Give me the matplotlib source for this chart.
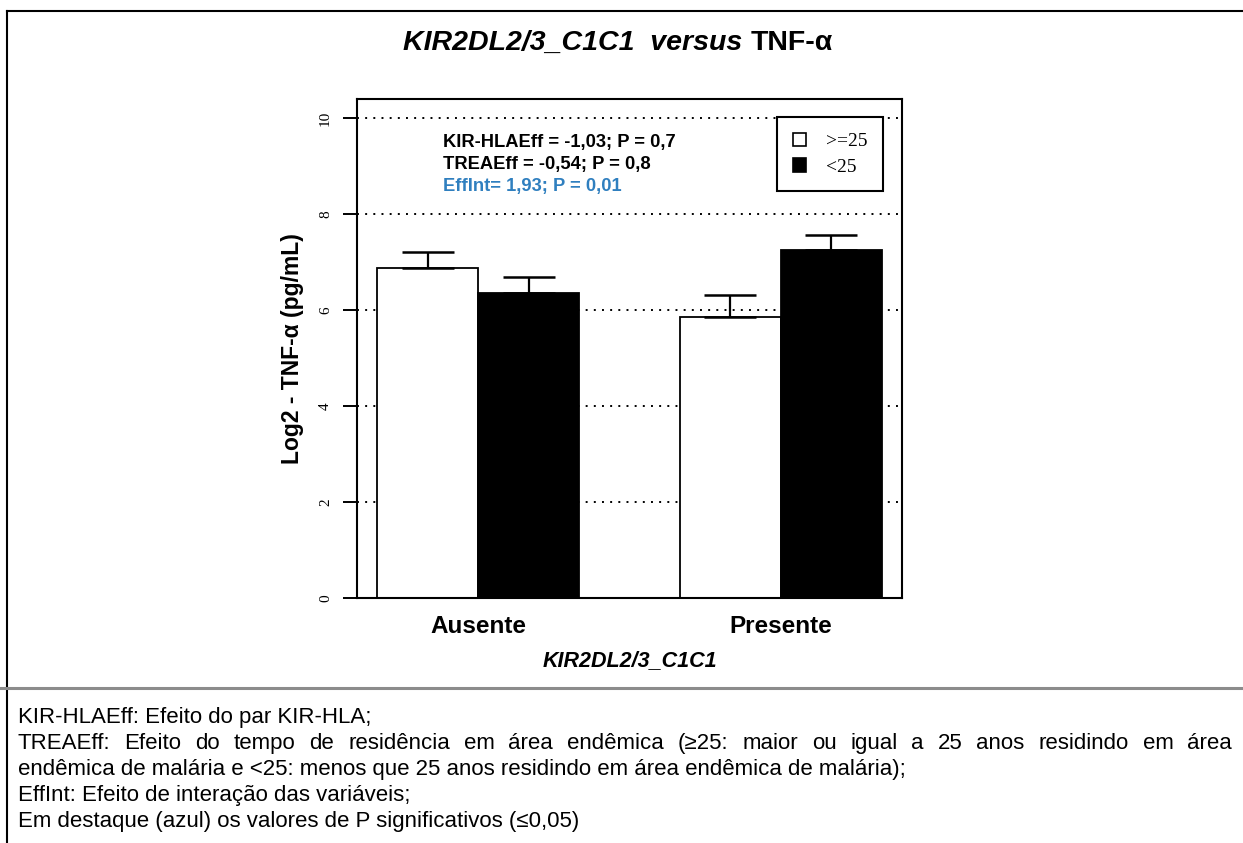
import matplotlib
matplotlib.use('Agg')
import matplotlib.pyplot as plt
from matplotlib.lines import Line2D
from matplotlib.patches import Patch
import numpy as np

# dados
grupos = ['Ausente', 'Presente']
series = ['>=25', '<25']
medias_ge25 = [6.88, 5.85]
medias_lt25 = [6.36, 7.25]
ep_ge25 = [0.33, 0.46]
ep_lt25 = [0.33, 0.31]
linhas_grade = [2, 4, 6, 8, 10]
textos_efeito = ['KIR-HLAEff = -1,03; P = 0,7',
                 'TREAEff = -0,54; P = 0,8',
                 'EffInt= 1,93; P = 0,01']
cores_efeito = ['black', 'black', '#2f7fbf']
notas = ['KIR-HLAEff: Efeito do par KIR-HLA;',
         'TREAEff: Efeito do tempo de residência em área endêmica (≥25: maior ou igual a 25 anos residindo em área',
         'endêmica de malária e <25: menos que 25 anos residindo em área endêmica de malária);',
         'EffInt: Efeito de interação das variáveis;',
         'Em destaque (azul) os valores de P significativos (≤0,05)']

sans = ['Liberation Sans', 'DejaVu Sans']
serif = ['Liberation Serif', 'DejaVu Serif']

W, H = 1243, 843
fig = plt.figure(figsize=(W / 100, H / 100), dpi=100)

# eixo do grafico de barras (estilo barplot do R)
ax = fig.add_axes([357 / W, 1 - 598 / H, 545 / W, 499 / H])
x_ge = np.array([1.5, 4.5])
x_lt = np.array([2.5, 5.5])

for y in linhas_grade:
    ax.axhline(y, color='black', lw=1.4, linestyle=(0, (1, 3.2)), zorder=0)

ax.bar(x_ge, medias_ge25, width=1, color='white', edgecolor='black', lw=1.3, zorder=2)
ax.bar(x_lt, medias_lt25, width=1, color='black', edgecolor='black', lw=1.3, zorder=2)
for xs, m, e in [(x_ge, medias_ge25, ep_ge25), (x_lt, medias_lt25, ep_lt25)]:
    ax.errorbar(xs, m, yerr=[np.zeros(len(e)), e], fmt='none', ecolor='black',
                elinewidth=1.6, capsize=18.5, capthick=1.8, zorder=3)

ax.set_xlim(0.8, 6.2)
ax.set_ylim(0, 10.4)
ax.set_yticks(linhas_grade[::-1] + [0])
ax.set_yticklabels([str(v) for v in linhas_grade[::-1]] + ['0'], rotation=90, va='center',
                   fontfamily=serif, fontsize=11)
ax.tick_params(axis='y', length=10, width=1.4, pad=8)
ax.set_xticks([2, 5])
ax.set_xticklabels(grupos, fontfamily=sans, fontweight='bold', fontsize=17.5)
ax.tick_params(axis='x', length=0, pad=12)
for s in ax.spines.values():
    s.set_linewidth(1.5)

ax.set_ylabel('Log2 - TNF-α (pg/mL)', fontfamily=sans, fontweight='bold', fontsize=16.5, labelpad=11)
ax.set_xlabel('KIR2DL2/3_C1C1', fontfamily=sans, fontweight='bold', fontstyle='italic',
              fontsize=15.5, labelpad=9)

# textos dos efeitos
for i, (t, c) in enumerate(zip(textos_efeito, cores_efeito)):
    ax.text(0.157, 0.912 - i * 0.044, t, transform=ax.transAxes, color=c,
            fontfamily=sans, fontweight='bold', fontsize=13.2, va='center', ha='left')

# legenda
leg = ax.legend(handles=[Patch(facecolor='white', edgecolor='black', lw=1.2),
                         Patch(facecolor='black', edgecolor='black', lw=1.2)],
                labels=series, loc='upper right', bbox_to_anchor=(0.965, 0.964),
                borderaxespad=0, fancybox=False, framealpha=1, edgecolor='black',
                prop={'family': serif, 'size': 14}, handlelength=0.7, handleheight=0.7,
                handletextpad=1.0, borderpad=0.8, labelspacing=0.4)
leg.get_frame().set_linewidth(1.5)
leg.set_zorder(5)

# titulo com partes em italico
fig.canvas.draw()
r = fig.canvas.get_renderer()
t1 = fig.text(0, 1 - 50 / H, 'KIR2DL2/3_C1C1  versus ', fontfamily=sans, fontweight='bold',
              fontstyle='italic', fontsize=20.5, va='baseline', ha='left')
t2 = fig.text(0, 1 - 50 / H, 'TNF-α', fontfamily=sans, fontweight='bold',
              fontsize=20.5, va='baseline', ha='left')
w1 = t1.get_window_extent(r).width
w2 = t2.get_window_extent(r).width
x0 = 618 - (w1 + w2) / 2
t1.set_x(x0 / W)
t2.set_x((x0 + w1) / W)

# notas de rodape (posicionadas pela linha de base)
x_ini, x_fim = 18, 1232
y_notas = [723, 749, 775, 801, 827]
for i, (t, yp) in enumerate(zip(notas, y_notas)):
    if i == 1:
        # linha justificada
        palavras = t.split(' ')
        larg = []
        objs = []
        for p in palavras:
            o = fig.text(0, 1 - yp / H, p, fontfamily=sans, fontsize=16, va='baseline', ha='left')
            objs.append(o)
            larg.append(o.get_window_extent(r).width)
        esp = (x_fim - x_ini - sum(larg)) / (len(palavras) - 1)
        xp = x_ini
        for o, lw_ in zip(objs, larg):
            o.set_x(xp / W)
            xp += lw_ + esp
    else:
        fig.text(x_ini / W, 1 - yp / H, t, fontfamily=sans, fontsize=16, va='baseline', ha='left')

# molduras
fig.add_artist(Line2D([7 / W, 1], [1 - 11 / H, 1 - 11 / H], color='black', lw=1.5))
fig.add_artist(Line2D([7 / W, 7 / W], [0, 1 - 11 / H], color='black', lw=1.5))
fig.add_artist(Line2D([0, 1], [1 - 688 / H, 1 - 688 / H], color='#8c8c8c', lw=2.2))

fig.savefig('out.png', dpi=100)
